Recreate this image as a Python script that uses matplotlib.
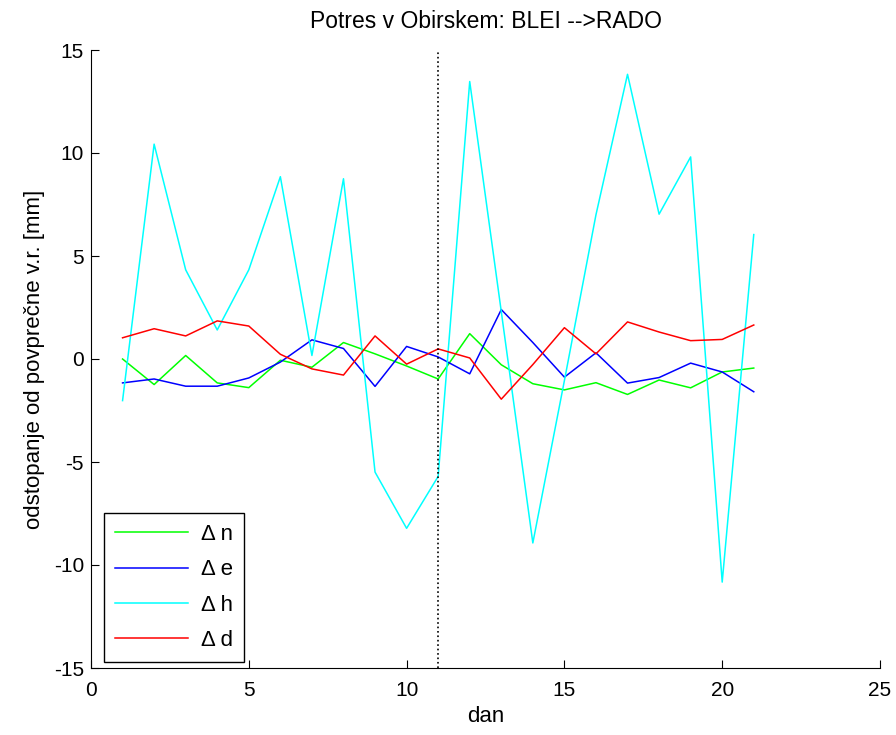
import matplotlib
matplotlib.use("Agg")
import matplotlib.pyplot as plt

days = list(range(1, 22))
dn = [0.0, -1.24, 0.17, -1.16, -1.39, -0.06, -0.4, 0.8, 0.25, -0.34, -0.97,
      1.23, -0.28, -1.2, -1.5, -1.15, -1.72, -1.02, -1.4, -0.63, -0.44]
de = [-1.16, -0.97, -1.32, -1.32, -0.92, -0.15, 0.93, 0.51, -1.33, 0.61, 0.1,
      -0.72, 2.4, 0.8, -0.88, 0.3, -1.17, -0.9, -0.2, -0.63, -1.59]
dh = [-2.02, 10.43, 4.33, 1.41, 4.33, 8.85, 0.17, 8.75, -5.49, -8.22, -5.7,
      13.47, 2.3, -8.93, -1.05, 7.0, 13.82, 7.03, 9.81, -10.83, 6.04]
dd = [1.03, 1.47, 1.12, 1.85, 1.6, 0.23, -0.48, -0.78, 1.12, -0.25, 0.49,
      0.05, -1.95, -0.27, 1.52, 0.25, 1.8, 1.31, 0.89, 0.95, 1.65]
labels = ["\u0394 n", "\u0394 e", "\u0394 h", "\u0394 d"]
event_day = 11

plt.rcParams['font.family'] = ['Liberation Sans', 'DejaVu Sans']
plt.rcParams['axes.unicode_minus'] = False

fig = plt.figure(figsize=(8.96, 7.35), dpi=100)
ax = fig.add_axes([91/896, 67/735, (880-91)/896, (668-50)/735])

ax.plot(days, dn, color=(0, 1, 0), lw=1.1, label=labels[0])
ax.plot(days, de, color=(0, 0, 1), lw=1.1, label=labels[1])
ax.plot(days, dh, color=(0, 1, 1), lw=1.1, label=labels[2])
ax.plot(days, dd, color=(1, 0, 0), lw=1.1, label=labels[3])
ax.axvline(event_day, color='black', ls=':', lw=1.2)

ax.set_xlim(0, 25)
ax.set_ylim(-15, 15)
ax.set_xticks([0, 5, 10, 15, 20, 25])
ax.set_yticks([-15, -10, -5, 0, 5, 10, 15])
ax.spines['top'].set_visible(False)
ax.spines['right'].set_visible(False)
ax.tick_params(direction='in', length=6, labelsize=15, top=False, right=False)
ax.tick_params(axis='x', pad=9)
ax.tick_params(axis='y', pad=5)

ax.set_title("Potres v Obirskem: BLEI -->RADO", fontsize=16.5, pad=15.5)
ax.set_xlabel("dan", fontsize=16, labelpad=5)
ax.set_ylabel("odstopanje od povprečne v.r. [mm]", fontsize=16, labelpad=6)

leg = ax.legend(loc='lower left', bbox_to_anchor=(0.0165, 0.0097), borderaxespad=0,
                fontsize=16, handlelength=3.3, handletextpad=0.57, labelspacing=0.64,
                borderpad=0.5, fancybox=False, framealpha=1, edgecolor='black')
leg.get_frame().set_linewidth(1.0)

fig.savefig("out.png", dpi=100)
